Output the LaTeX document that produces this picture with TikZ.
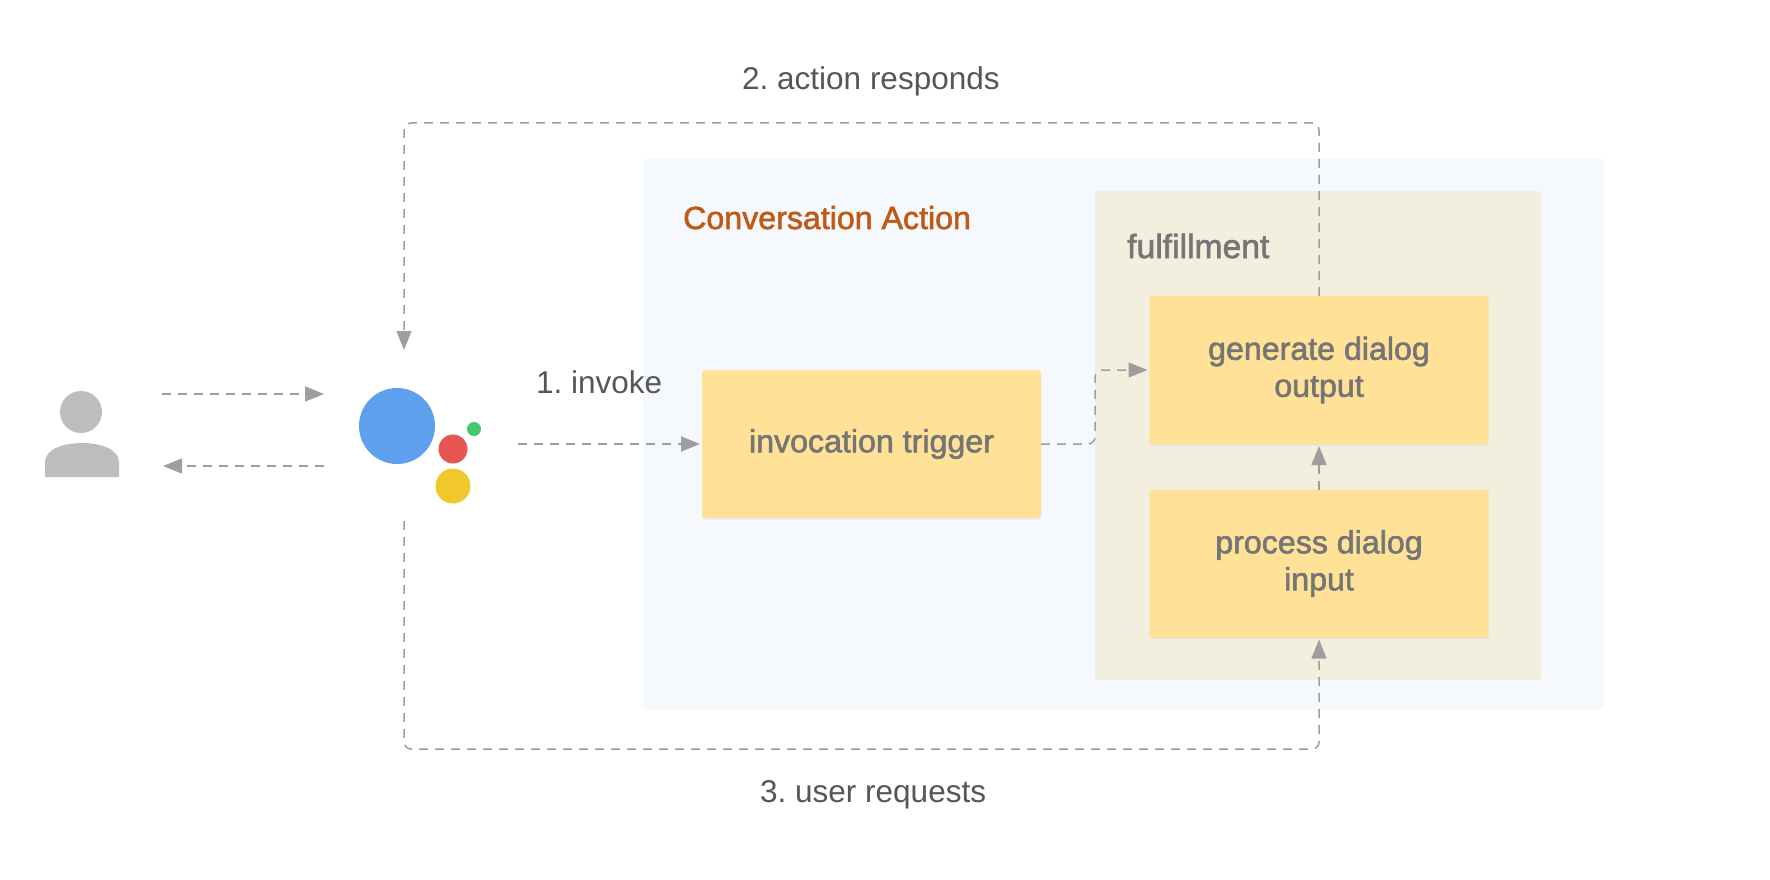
\documentclass[tikz,border=0pt]{standalone}
\usepackage{fontspec}
\setmainfont{Liberation Sans}
\newfontfamily\medfont[FakeBold=1.8,FakeStretch=1.005]{Liberation Sans}
\newfontfamily\regfont{Liberation Sans}
\usetikzlibrary{arrows.meta,shadows}
\definecolor{outerbg}{HTML}{F5F8FD}
\definecolor{fulfilbg}{HTML}{F3EFDE}
\definecolor{boxbg}{HTML}{FFE297}
\definecolor{boxtext}{HTML}{757575}
\definecolor{labeltext}{HTML}{565656}
\definecolor{titletext}{HTML}{BF5A16}
\definecolor{flowcol}{HTML}{9E9E9E}
\definecolor{personcol}{HTML}{BDBDBD}
\definecolor{gblue}{HTML}{5E9FEE}
\definecolor{gred}{HTML}{E85652}
\definecolor{gyellow}{HTML}{F0C82C}
\definecolor{ggreen}{HTML}{46C671}
\newcommand{\dn}[1]{\raisebox{-5pt}{#1}}
\tikzset{
  panel/.style={rectangle,rounded corners=3pt,inner sep=0pt,outer sep=0pt},
  stepbox/.style={panel,fill=boxbg,text=boxtext,font=\fontsize{32}{37}\selectfont\medfont\frenchspacing,align=center,
    minimum width=339pt,minimum height=148pt,
    drop shadow={opacity=0.12,shadow xshift=0pt,shadow yshift=-1.5pt}},
  flow/.style={draw=flowcol,line width=1.5pt,dash pattern=on 9pt off 7pt,rounded corners=7pt,shorten >=2pt,
    -{Triangle[length=19pt,width=15pt,fill=flowcol]}},
  dot/.style={circle,inner sep=0pt,outer sep=0pt},
  lbl/.style={anchor=base west,inner sep=0pt,text=labeltext,font=\fontsize{31.5}{36}\selectfont\regfont\frenchspacing},
  paneltitle/.style={anchor=base west,inner sep=0pt,font=\fontsize{32}{36}\selectfont\medfont\frenchspacing}
}
\begin{document}
\begin{tikzpicture}[x=1pt,y=-1pt]
\useasboundingbox[fill=white] (0,0) rectangle (1770,880);
% panels
\node[panel,fill=outerbg,minimum width=961pt,minimum height=551pt] (action) at (1123.5,434.5) {};
\node[panel,fill=fulfilbg,minimum width=446pt,minimum height=489pt] (fulfil) at (1318,435.5) {};
% step boxes
\node[stepbox] (trigger) at (871.5,444) {\dn{invocation trigger}};
\node[stepbox] (gen) at (1319,370) {\dn{generate dialog}\\\dn{output}};
\node[stepbox] (proc) at (1319,563.5) {\dn{process dialog}\\\dn{input}};
% texts
\node[paneltitle,text=titletext] (ttl) at (683,229) {Conversation Action};
\node[paneltitle,text=boxtext,font=\fontsize{33.5}{36}\selectfont\medfont] (ful) at (1127,258) {fulfillment};
\node[lbl] (l1) at (536,393) {1. invoke};
\node[lbl] (l2) at (742,90) {2. action responds};
\node[lbl] (l3) at (760,802) {3. user requests};
% person
\node[dot,fill=personcol,minimum size=42pt] (head) at (81,412) {};
\fill[personcol] (45,477) -- (45,462) .. controls (45,449) and (64,443) .. (82,443) .. controls (100,443) and (119,449) .. (119,462) -- (119,477) -- cycle;
% assistant
\node[dot,fill=gblue,minimum size=76pt] (blue) at (397,426) {};
\node[dot,fill=gred,minimum size=29pt] (red) at (453,449) {};
\node[dot,fill=gyellow,minimum size=35pt] (yellow) at (453,486) {};
\node[dot,fill=ggreen,minimum size=14pt] (green) at (474,429) {};
% free ends
\coordinate (userOutS) at (162,394);
\coordinate (userOutE) at (326,394);
\coordinate (userInS) at (324,466);
\coordinate (userInE) at (161,466);
\coordinate (asTop) at (404,352);
\coordinate (asBottom) at (404,521);
\coordinate (asRight) at (518,444);
\coordinate (topLeft) at (404,123);
\coordinate (botLeft) at (404,749);
\coordinate (midBend) at (1095,444);
% connectors
\draw[flow] (userOutS) -- (userOutE);
\draw[flow] (userInS) -- (userInE);
\draw[flow] (asRight) -- (trigger.west);
\draw[flow] (trigger.east) -- (midBend) -- (midBend |- gen.west) -- (gen.west);
\draw[flow] (proc.north) -- (gen.south);
\draw[flow] (gen.north) -- (gen.north |- topLeft) -- (topLeft) -- (asTop);
\draw[flow] (asBottom) -- (botLeft) -- (botLeft -| proc.south) -- (proc.south);
\end{tikzpicture}
\end{document}
